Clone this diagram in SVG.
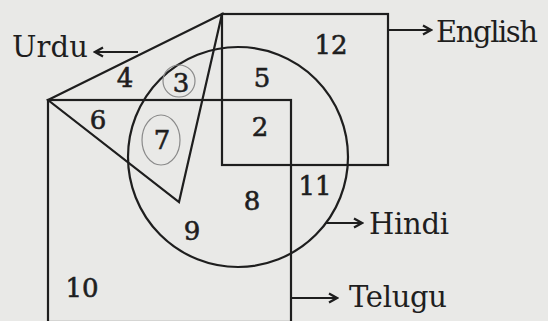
<svg xmlns="http://www.w3.org/2000/svg" width="548" height="321" viewBox="0 0 548 321">
<defs>
<style>
.shape{fill:none;stroke:#1e1e1e;stroke-width:2.2}
.conn{fill:none;stroke:#1e1e1e;stroke-width:2.2}
.lbl{font-family:"DejaVu Serif","Liberation Serif",serif;font-size:29px;fill:#1e1e1e}
.num{font-family:"DejaVu Serif","Liberation Serif",serif;font-size:26px;fill:#1e1e1e;stroke:#1e1e1e;stroke-width:0.6;text-anchor:middle}
.ring{fill:none;stroke:#8a8a8a;stroke-width:1.2}
</style>
<marker id="ah" viewBox="0 0 12 12" refX="10" refY="6" markerWidth="12" markerHeight="12" markerUnits="userSpaceOnUse" orient="auto">
<path d="M2,1.5 L10,6 L2,10.5" fill="none" stroke="#1e1e1e" stroke-width="2.2"/>
</marker>
</defs>
<rect width="548" height="321" fill="#e9e9e7"/>
<g id="english">
<rect class="shape" x="222" y="14" width="166" height="151"/>
<text class="lbl" x="436" y="42" textLength="102">English</text>
</g>
<g id="telugu">
<rect class="shape" x="48" y="100" width="243" height="222"/>
<text class="lbl" x="349" y="307" textLength="98">Telugu</text>
</g>
<g id="urdu">
<polygon class="shape" points="48,100 222,14 179,202"/>
<text class="lbl" x="12" y="57" textLength="76">Urdu</text>
</g>
<g id="hindi">
<circle class="shape" cx="238" cy="157" r="110"/>
<text class="lbl" x="369" y="234" textLength="80">Hindi</text>
</g>
<g id="connectors">
<line class="conn" x1="138" y1="52" x2="95" y2="52" marker-end="url(#ah)"/>
<line class="conn" x1="388" y1="30" x2="431" y2="30" marker-end="url(#ah)"/>
<line class="conn" x1="326" y1="223" x2="362" y2="223" marker-end="url(#ah)"/>
<line class="conn" x1="291" y1="298" x2="337" y2="298" marker-end="url(#ah)"/>
</g>
<g id="regions">
<ellipse class="ring" cx="179" cy="81" rx="16" ry="16"/>
<ellipse class="ring" cx="161" cy="140" rx="19" ry="25"/>
<text class="num" x="125" y="87">4</text>
<text class="num" x="181" y="92">3</text>
<text class="num" x="262" y="87">5</text>
<text class="num" x="331" y="54">12</text>
<text class="num" x="98" y="129">6</text>
<text class="num" x="162" y="149">7</text>
<text class="num" x="260" y="136">2</text>
<text class="num" x="252" y="210">8</text>
<text class="num" x="315" y="195">11</text>
<text class="num" x="192" y="240">9</text>
<text class="num" x="82" y="297">10</text>
</g>
</svg>
